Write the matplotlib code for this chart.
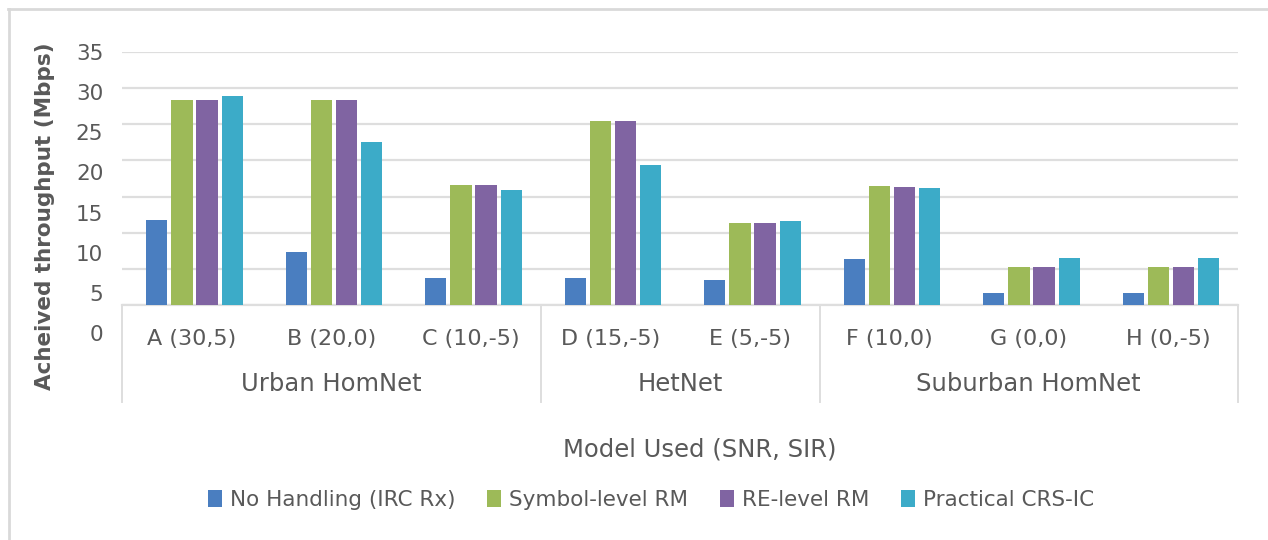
import numpy as np
import matplotlib.pyplot as plt
from matplotlib.lines import Line2D
from matplotlib.transforms import blended_transform_factory

plt.rcParams['font.family'] = ['DejaVu Sans']

# 数据
categories = ['A (30,5)', 'B (20,0)', 'C (10,-5)', 'D (15,-5)', 'E (5,-5)',
              'F (10,0)', 'G (0,0)', 'H (0,-5)']
groups = ['Urban HomNet', 'HetNet', 'Suburban HomNet']
group_sizes = [3, 2, 3]
series_names = ['No Handling (IRC Rx)', 'Symbol-level RM', 'RE-level RM', 'Practical CRS-IC']
no_handling = [11.8, 7.4, 3.8, 3.8, 3.4, 6.4, 1.7, 1.7]
symbol_rm = [28.4, 28.4, 16.6, 25.5, 11.4, 16.5, 5.3, 5.3]
re_rm = [28.4, 28.4, 16.6, 25.5, 11.4, 16.3, 5.3, 5.3]
practical = [28.9, 22.6, 15.9, 19.4, 11.6, 16.2, 6.5, 6.5]
y_ticks = [0, 5, 10, 15, 20, 25, 30, 35]

colors = ['#4A7EC0', '#9DBA58', '#8064A2', '#3CABC8']
text_color = '#595959'
grid_color = '#dedede'

W, H = 1268, 540
fig = plt.figure(figsize=(W / 100, H / 100), dpi=100)

ax = fig.add_axes([122 / W, 1 - 305 / H, (1238 - 122) / W, (305 - 52) / H])
x = np.arange(len(categories))
width = 0.152
offsets = np.array([-1.5, -0.5, 0.5, 1.5]) * 0.18
for i, vals in enumerate([no_handling, symbol_rm, re_rm, practical]):
    ax.bar(x + offsets[i] + 0.02, vals, width, color=colors[i], label=series_names[i], zorder=3)

ax.set_xlim(-0.5, len(categories) - 0.5)
ax.set_ylim(0, 35)
ax.set_yticks(y_ticks)
ax.yaxis.grid(True, color=grid_color, linewidth=1.6, zorder=0)
ax.tick_params(axis='y', length=0, labelleft=False)
ax.tick_params(axis='x', length=0, labelbottom=False)
for s in ['top', 'right', 'left']:
    ax.spines[s].set_visible(False)
ax.spines['bottom'].set_color(grid_color)
ax.spines['bottom'].set_linewidth(1.6)

# 类别标签与分组框
trans = blended_transform_factory(ax.transData, ax.transAxes)
px = 1 / (305 - 52)
for i, c in enumerate(categories):
    ax.text(i, -(339 - 305) * px, c, transform=trans, ha='center', va='center',
            fontsize=16, color=text_color)
bounds = np.concatenate([[0], np.cumsum(group_sizes)]) - 0.5
for b in bounds:
    ax.add_line(Line2D([b, b], [0, -(402 - 305) * px], transform=trans, color=grid_color,
                       linewidth=1.4, clip_on=False))
for g, lo, hi in zip(groups, bounds[:-1], bounds[1:]):
    ax.text((lo + hi) / 2, -(384 - 305) * px, g, transform=trans, ha='center', va='center',
            fontsize=17.5, color=text_color)

# y 轴刻度标签 (原图中与网格线不对齐)
ax_lab = fig.add_axes([122 / W, 1 - 333 / H, 0.001, (333 - 52) / H])
ax_lab.set_ylim(0, 35)
ax_lab.set_yticks(y_ticks)
ax_lab.set_yticklabels([str(t) for t in y_ticks], fontsize=15.5, color=text_color)
ax_lab.tick_params(axis='y', length=0, pad=13.5)
ax_lab.set_xticks([])
for s in ax_lab.spines.values():
    s.set_visible(False)
ax_lab.patch.set_visible(False)

fig.text(45 / W, 1 - 216 / H, 'Acheived throughput (Mbps)', rotation=90, ha='center', va='center',
         fontsize=15.5, fontweight='bold', color=text_color)
fig.text(700 / W, 1 - 449 / H, 'Model Used (SNR, SIR)', ha='center', va='center',
         fontsize=17.5, color=text_color)

fig.legend(loc='center', bbox_to_anchor=(651 / W, 1 - 500 / H), ncol=4, frameon=False,
           fontsize=15.5, labelcolor=text_color, handlelength=0.65, handleheight=0.85,
           handletextpad=0.35, columnspacing=1.5)

# 外框
fig.add_artist(Line2D([8 / W, 1], [1 - 9 / H, 1 - 9 / H], color='#d9d9d9', linewidth=2))
fig.add_artist(Line2D([9 / W, 9 / W], [0, 1 - 9 / H], color='#d9d9d9', linewidth=2))

fig.savefig('out.png', dpi=100)
